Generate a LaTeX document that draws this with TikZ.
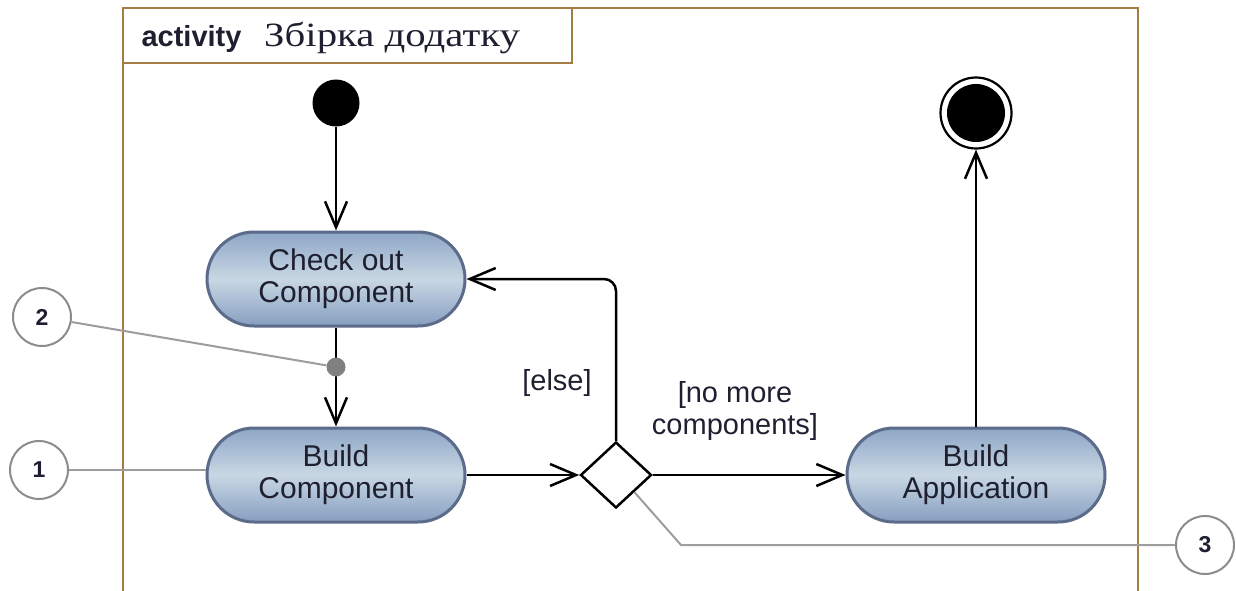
\documentclass[tikz,border=0pt]{standalone}
\usepackage{fontspec}
\setmainfont{Liberation Sans}
\newfontfamily\serifcyr{Liberation Serif}
\usetikzlibrary{shapes.geometric,arrows.meta}

\definecolor{framebrown}{HTML}{A67C45}
\definecolor{actborder}{HTML}{5C6B8A}
\definecolor{acttop}{HTML}{8EA6C6}
\definecolor{actmid}{HTML}{C8D7E3}
\definecolor{actbot}{HTML}{869EC0}
\definecolor{notegray}{HTML}{8C8C8C}
\definecolor{txt}{HTML}{1E2030}

\begin{document}
\begin{tikzpicture}[x=1pt,y=-1pt,
  frame/.style={draw=framebrown, line width=2.6pt},
  action/.style={draw=actborder, line width=3pt, rounded corners=47pt,
    minimum width=258pt, minimum height=94pt,
    top color=acttop, bottom color=actbot, middle color=actmid,
    align=center, text=txt, font=\fontsize{30}{32}\selectfont, inner sep=0pt},
  flow/.style={line width=2.5pt, -{Straight Barb[length=26pt,width=22pt]}},
  guard/.style={text=txt, font=\fontsize{29}{32}\selectfont, align=center, inner sep=0pt},
  callout/.style={circle, draw=notegray, line width=2pt, fill=white,
    minimum size=58pt, inner sep=0pt, text=txt,
    font=\bfseries\fontsize{23}{23}\selectfont},
  noteline/.style={draw=notegray!85, line width=2pt},
  decision/.style={diamond, draw=black, line width=2.5pt, fill=white,
    minimum width=71pt, minimum height=66pt, inner sep=0pt}]

\useasboundingbox (0,0) rectangle (1236,591);

% activity frame and its name tab
\draw[frame] (123,600) -- (123,8) -- (1138,8) -- (1138,600);
\draw[frame] (123,8) rectangle (572,63);
\node[anchor=base west, text=txt, font=\bfseries\fontsize{29}{29}\selectfont] (kw) at (138,47) {activity};
\node[anchor=base west, text=txt, font=\serifcyr\fontsize{34}{34}\selectfont, inner sep=0pt] (ttl) at (264,47) {\scalebox{1.2}[1]{Збірка додатку}};

% actions
\node[action] (co) at (336,279) {Check out\\Component};
\node[action] (bc) at (336,475) {Build\\Component};
\node[action] (ba) at (976,475) {Build\\Application};
\node[decision] (dia) at (616,475) {};

% initial and final nodes
\node[circle, fill=black, minimum size=47pt, inner sep=0pt] (init) at (336,103) {};
\node[circle, draw=black, line width=2.2pt, fill=white, minimum size=71pt, inner sep=0pt] (fin) at (976,113) {};
\node[circle, fill=black, minimum size=58pt, inner sep=0pt] (fincore) at (fin) {};

% control flows
\draw[flow] (init) -- (co);
\draw[flow] (co) -- (bc);
\draw[flow] (bc) -- (dia);
\draw[flow] (dia) -- (ba);
\draw[flow, rounded corners=12pt] (dia.north) |- (co.east);
\draw[flow] (ba) -- (fin);

% guards
\node[guard] (gelse) at (557,383) {[else]};
\node[guard] (gdone) at (735,411) {[no more\\components]};

% annotations
\node[circle, fill=black!50, minimum size=19pt, inner sep=0pt] (dot) at (336,367) {};
\node[callout] (n2) at (42,317) {2};
\node[callout] (n1) at (39,470) {1};
\node[callout] (n3) at (1205,545) {3};
\coordinate (k3) at (681,545);
\draw[noteline] (n2) -- (dot);
\draw[noteline] (n1) -- (n1 -| bc.west);
\draw[noteline] (n3) -- (k3) -- (dia.south east);

\end{tikzpicture}
\end{document}
